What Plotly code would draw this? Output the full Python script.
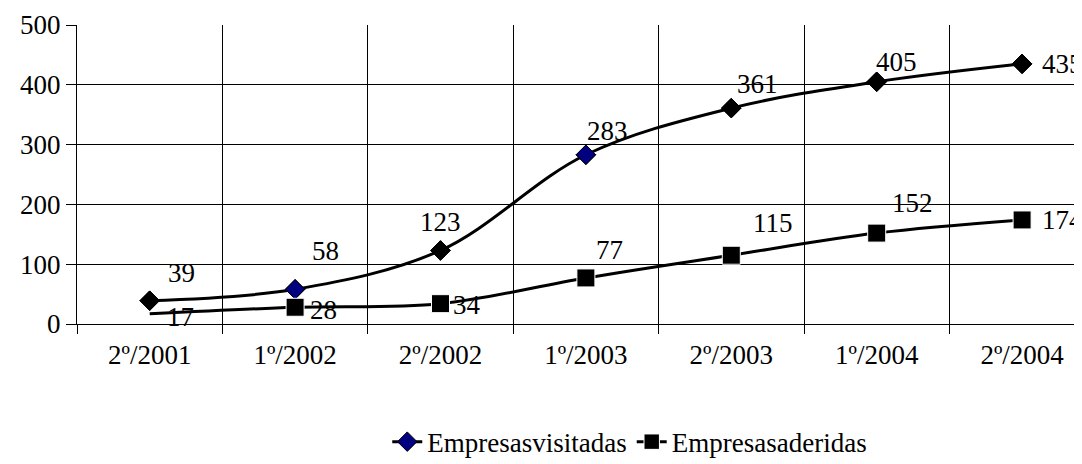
"""Empresas visitadas vs aderidas por semestre."""

import plotly.graph_objects as go

semestres = ["2º/2001", "1º/2002", "2º/2002", "1º/2003", "2º/2003", "1º/2004", "2º/2004"]
visitadas = [39, 58, 123, 283, 361, 405, 435]
aderidas = [17, 28, 34, 77, 115, 152, 174]

y_ticks = [0, 100, 200, 300, 400, 500]

FONT = "Liberation Serif"
NAVY = "#000080"
FS = 27

# label offsets in px (dx, dy) - Excel placed these by hand
vis_offsets = [(32, 28), (30, 38), (0, 28), (22, 24), (26, 24), (20, 20), (40, 0)]
ade_offsets = [(31, -3), (28, -3), (26, -1), (24, 28), (42, 32), (36, 30), (40, 0)]

# the original only had some diamonds filled navy
vis_colors = ["#000000", NAVY, "#000000", NAVY, "#000000", "#000000", "#000000"]

x = list(range(len(semestres)))

fig = go.Figure()

# line + legend entry (navy diamond in legend)
fig.add_trace(
    go.Scatter(
        x=x,
        y=visitadas,
        name="Empresasvisitadas",
        mode="lines+markers",
        line=dict(color="#000000", width=3, shape="spline", smoothing=1),
        marker=dict(symbol="diamond", size=15, color=NAVY, opacity=1,
                    line=dict(color="#000000", width=1)),
    )
)
# per-point fills on top
fig.add_trace(
    go.Scatter(
        x=x,
        y=visitadas,
        mode="markers",
        showlegend=False,
        hoverinfo="skip",
        marker=dict(symbol="diamond", size=15, color=vis_colors, opacity=1,
                    line=dict(color="#000000", width=1)),
    )
)

fig.add_trace(
    go.Scatter(
        x=x,
        y=aderidas,
        name="Empresasaderidas",
        mode="lines+markers",
        line=dict(color="#000000", width=3, shape="spline", smoothing=1),
        marker=dict(
            symbol="square",
            size=[0] + [18] * (len(aderidas) - 1),
            color="#000000",
            opacity=1,
        ),
    )
)

for ys, offs in [(visitadas, vis_offsets), (aderidas, ade_offsets)]:
    for xi, yi, (dx, dy) in zip(x, ys, offs):
        fig.add_annotation(
            x=xi,
            y=yi,
            text=str(yi),
            showarrow=False,
            xshift=dx,
            yshift=dy,
            font=dict(family=FONT, size=FS, color="#000000"),
        )

n = len(semestres)
fig.update_layout(
    width=1074,
    height=456,
    paper_bgcolor="white",
    plot_bgcolor="white",
    font=dict(family=FONT, size=FS, color="#000000"),
    margin=dict(l=69, r=0, t=17, b=140, autoexpand=False),
    xaxis=dict(
        range=[-0.5, -0.5 + 1005 / 145.4],
        tickmode="array",
        tickvals=x,
        ticktext=semestres,
        ticks="",
        showgrid=False,
        showline=True,
        linecolor="#000000",
        linewidth=1,
        zeroline=False,
        ticklabelstandoff=7,
        minor=dict(
            tickmode="array",
            tickvals=[i - 0.5 for i in range(n + 1)],
            ticks="outside",
            ticklen=9,
            tickcolor="#000000",
            showgrid=True,
            gridcolor="#000000",
            gridwidth=1,
        ),
    ),
    yaxis=dict(
        range=[0, 500],
        tickmode="array",
        tickvals=y_ticks,
        ticks="outside",
        ticklen=10,
        tickcolor="#000000",
        showgrid=True,
        gridcolor="#000000",
        gridwidth=1,
        showline=True,
        linecolor="#000000",
        linewidth=1,
        zeroline=False,
    ),
    legend=dict(
        orientation="h",
        x=0.55,
        xanchor="center",
        y=-0.395,
        yanchor="middle",
        font=dict(family=FONT, size=FS, color="#000000"),
    ),
)

fig.write_html("out.html")
